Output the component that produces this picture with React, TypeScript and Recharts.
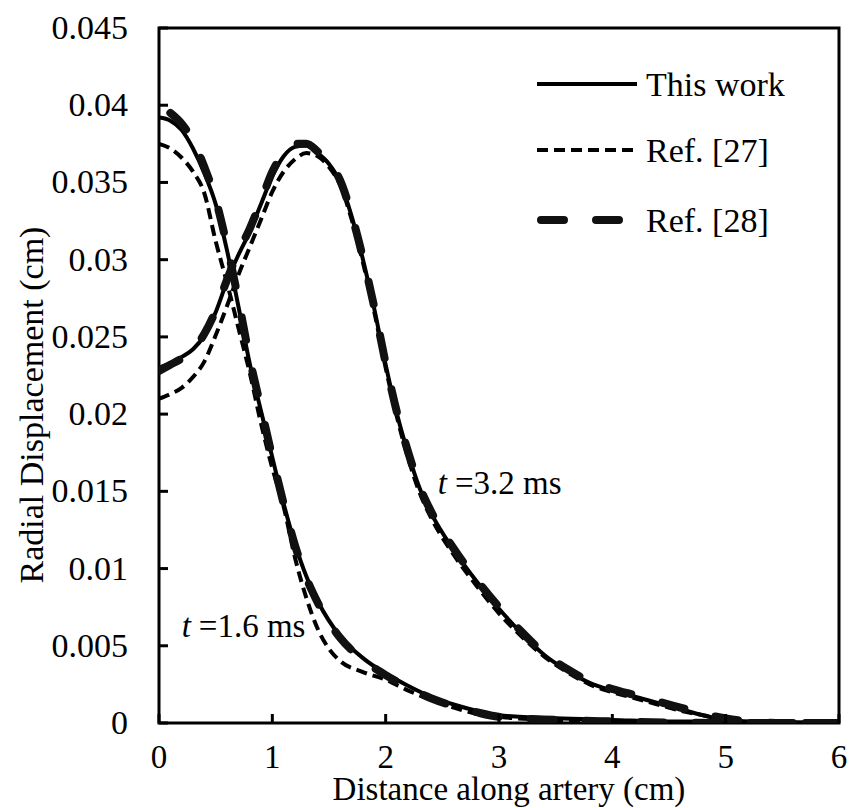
import React from "react";
import { LineChart, Line, XAxis, YAxis, ReferenceArea, ReferenceDot } from "recharts";

// axis ticks
const xTicks = [0, 1, 2, 3, 4, 5, 6];
const yTicks = [0, 0.005, 0.01, 0.015, 0.02, 0.025, 0.03, 0.035, 0.04, 0.045];
const yTickLabels = ["0", "0.005", "0.01", "0.015", "0.02", "0.025", "0.03", "0.035", "0.04", "0.045"];

// t = 1.6 ms
const thisWork16: [number, number][] = [
  [0, 0.0392], [0.1, 0.039], [0.2, 0.0384], [0.3, 0.0372], [0.4, 0.0356], [0.5, 0.0336],
  [0.6, 0.0306], [0.7, 0.027], [0.8, 0.0233], [0.9, 0.0202], [1.0, 0.0172], [1.1, 0.0142],
  [1.2, 0.0116], [1.3, 0.0095], [1.4, 0.0079], [1.6, 0.0056], [1.8, 0.0042], [2.0, 0.0032],
  [2.2, 0.0024], [2.4, 0.0017], [2.6, 0.0012], [2.8, 0.0008], [3.0, 0.0005], [3.5, 0.0003],
  [4.0, 0.0002], [4.5, 0.0001], [5.0, 0.0001], [6.0, 0],
];
const ref27_16: [number, number][] = [
  [0, 0.0375], [0.1, 0.0372], [0.2, 0.0366], [0.3, 0.0357], [0.4, 0.0343], [0.5, 0.0312],
  [0.6, 0.0285], [0.7, 0.0256], [0.8, 0.0227], [0.9, 0.0194], [1.0, 0.0165], [1.1, 0.014],
  [1.2, 0.0107], [1.3, 0.0081], [1.4, 0.0061], [1.5, 0.0048], [1.6, 0.004], [1.8, 0.0033],
  [2.0, 0.0028], [2.2, 0.0021], [2.4, 0.0015], [2.6, 0.001], [2.8, 0.0006], [3.0, 0.0004],
  [3.5, 0.0002], [4.0, 0.0001],
];
const ref28_16: [number, number][] = [
  [0.1, 0.0395], [0.2, 0.0388], [0.3, 0.0377], [0.4, 0.036], [0.5, 0.0339], [0.6, 0.0309],
  [0.7, 0.0274], [0.8, 0.0236], [0.9, 0.0204], [1.0, 0.0172], [1.1, 0.0142], [1.2, 0.0115],
  [1.3, 0.0094], [1.4, 0.0078], [1.6, 0.0055], [1.8, 0.0041], [2.0, 0.0031], [2.2, 0.0023],
  [2.4, 0.0016], [2.6, 0.0011], [2.8, 0.0007], [3.0, 0.0004], [3.5, 0.0002], [4.0, 0.0001],
  [5.0, 0], [6.0, 0],
];

// t = 3.2 ms
const thisWork32: [number, number][] = [
  [0, 0.023], [0.1, 0.0233], [0.2, 0.0237], [0.3, 0.0242], [0.4, 0.0251], [0.5, 0.0266],
  [0.6, 0.0286], [0.7, 0.0303], [0.8, 0.0318], [0.9, 0.0336], [1.0, 0.0354], [1.1, 0.0367],
  [1.2, 0.0373], [1.3, 0.0374], [1.4, 0.0369], [1.5, 0.0362], [1.6, 0.035], [1.7, 0.0328],
  [1.8, 0.03], [1.9, 0.0268], [2.0, 0.0232], [2.1, 0.02], [2.2, 0.0174], [2.3, 0.0152],
  [2.4, 0.0136], [2.6, 0.0112], [2.8, 0.0092], [3.0, 0.0074], [3.2, 0.0058], [3.4, 0.0044],
  [3.6, 0.0034], [3.8, 0.0026], [4.0, 0.0021], [4.2, 0.0017], [4.4, 0.0013], [4.6, 0.0009],
  [4.8, 0.0005], [5.0, 0.0002], [5.2, 0.0001], [5.5, 0], [6.0, 0],
];
const ref27_32: [number, number][] = [
  [0, 0.021], [0.1, 0.0213], [0.2, 0.0217], [0.3, 0.0224], [0.4, 0.0234], [0.5, 0.0251],
  [0.6, 0.027], [0.7, 0.029], [0.8, 0.0308], [0.9, 0.0326], [1.0, 0.0344], [1.1, 0.0357],
  [1.2, 0.0365], [1.3, 0.0369], [1.4, 0.0367], [1.5, 0.036], [1.6, 0.0348], [1.7, 0.0326],
  [1.8, 0.0298], [1.9, 0.0266], [2.0, 0.023], [2.1, 0.0198], [2.2, 0.0171], [2.3, 0.0149],
  [2.4, 0.0133], [2.6, 0.0109], [2.8, 0.0089], [3.0, 0.0071], [3.2, 0.0056], [3.4, 0.0043],
  [3.6, 0.0033], [3.8, 0.0025], [4.0, 0.002], [4.2, 0.0016], [4.4, 0.0012], [4.6, 0.0008],
  [4.8, 0.0005], [5.0, 0.0002], [5.5, 0], [6.0, 0],
];
const ref28_32: [number, number][] = [
  [0, 0.0228], [0.1, 0.0232], [0.2, 0.0236], [0.3, 0.0242], [0.4, 0.0252], [0.5, 0.0267],
  [0.6, 0.0287], [0.7, 0.0305], [0.8, 0.032], [0.9, 0.0338], [1.0, 0.0357], [1.1, 0.0369],
  [1.2, 0.0375], [1.3, 0.0375], [1.4, 0.037], [1.5, 0.0363], [1.6, 0.0351], [1.7, 0.0329],
  [1.8, 0.0301], [1.9, 0.0269], [2.0, 0.0233], [2.1, 0.0201], [2.2, 0.0175], [2.3, 0.0153],
  [2.4, 0.0137], [2.6, 0.0113], [2.8, 0.0093], [3.0, 0.0075], [3.2, 0.0059], [3.4, 0.0045],
  [3.6, 0.0035], [3.8, 0.0027], [4.0, 0.0022], [4.2, 0.0018], [4.4, 0.0014], [4.6, 0.001],
  [4.8, 0.0006], [5.0, 0.0003], [5.2, 0.0001], [5.5, 0], [6.0, 0],
];

const annotations = [
  { x: 0.2, y: 0.0056, time: "1.6" },
  { x: 2.46, y: 0.0148, time: "3.2" },
];

const FONT = '"Liberation Serif", "Times New Roman", serif';
const INK = "#000";

const pts = (s: [number, number][]) => s.map(([x, y]) => ({ x, y }));

const solid = { stroke: INK, strokeWidth: 4 };
const shortDash = { stroke: INK, strokeWidth: 4, strokeDasharray: "11 6" };
const longDash = { stroke: "#111", strokeWidth: 8, strokeDasharray: "23 32", strokeLinecap: "round" as const };

const legendItems = [
  { name: "This work", style: solid },
  { name: "Ref. [27]", style: shortDash },
  { name: "Ref. [28]", style: longDash },
];

const TICK_MARGIN = 30;

function YTick(props: any) {
  const { x, y, index } = props;
  const axisX = x + TICK_MARGIN;
  return (
    <g>
      <line x1={axisX} x2={axisX + 9} y1={y} y2={y} stroke={INK} strokeWidth={3} />
      <text x={x - 1} y={y + 11} textAnchor="end" fontFamily={FONT} fontSize={34} fill={INK}>
        {yTickLabels[index]}
      </text>
    </g>
  );
}

function XTick(props: any) {
  const { x, y, payload } = props;
  return (
    <g>
      <line x1={x} x2={x} y1={y} y2={y - 9} stroke={INK} strokeWidth={3} />
      <text x={x} y={y + 45} textAnchor="middle" fontFamily={FONT} fontSize={33} fill={INK}>
        {payload.value}
      </text>
    </g>
  );
}

function LegendBox() {
  const rowY = [84, 150, 220];
  const textY = [96, 162, 232];
  return (
    <svg
      width={300}
      height={200}
      style={{ position: "absolute", left: 537, top: 40, overflow: "visible", pointerEvents: "none" }}
    >
      {legendItems.map((it, i) => (
        <g key={it.name}>
          <line
            x1={i === 2 ? 4 : 0}
            x2={i === 2 ? 83 : 100}
            y1={rowY[i] - 40}
            y2={rowY[i] - 40}
            {...it.style}
          />
          <text x={109} y={textY[i] - 40} fontFamily={FONT} fontSize={34} fill={INK}>
            {it.name}
          </text>
        </g>
      ))}
    </svg>
  );
}

function AnnotationShape(time: string) {
  return (p: any) => (
    <text x={p.cx} y={p.cy} fontFamily={FONT} fontSize={33} fill={INK}>
      <tspan fontStyle="italic">t</tspan>
      <tspan dx={8}>={time} ms</tspan>
    </text>
  );
}

export default function App() {
  return (
    <div style={{ position: "absolute", left: 0, top: 0, width: 851, height: 808, background: "#fff" }}>
      <LineChart width={851} height={808} margin={{ top: 28, right: 12, bottom: 0, left: 0 }}>
        <XAxis
          type="number"
          dataKey="x"
          domain={[0, 6]}
          ticks={xTicks}
          interval={0}
          height={85}
          tickSize={0}
          tickMargin={0}
          axisLine={false}
          tick={<XTick />}
          allowDataOverflow
          label={{
            content: (p: any) => (
              <text
                x={p.viewBox.x + p.viewBox.width / 2 + 10}
                y={800}
                textAnchor="middle"
                fontFamily={FONT}
                fontSize={33}
                fill={INK}
              >
                Distance along artery (cm)
              </text>
            ),
          }}
        />
        <YAxis
          type="number"
          domain={[0, 0.045]}
          ticks={yTicks}
          interval={0}
          width={159}
          tickSize={0}
          tickMargin={TICK_MARGIN}
          axisLine={false}
          tick={<YTick />}
          allowDataOverflow
          label={{
            content: () => (
              <text
                x={43}
                y={405}
                transform="rotate(-90, 43, 405)"
                textAnchor="middle"
                fontFamily={FONT}
                fontSize={34}
                fill={INK}
              >
                Radial Displacement (cm)
              </text>
            ),
          }}
        />
        <ReferenceArea x1={0} x2={6} y1={0} y2={0.045} fill="none" stroke={INK} strokeWidth={3} />

        <Line data={pts(ref27_16)} dataKey="y" type="monotone" dot={false} isAnimationActive={false} {...shortDash} />
        <Line data={pts(ref27_32)} dataKey="y" type="monotone" dot={false} isAnimationActive={false} {...shortDash} />
        <Line data={pts(thisWork16)} dataKey="y" type="monotone" dot={false} isAnimationActive={false} {...solid} />
        <Line data={pts(thisWork32)} dataKey="y" type="monotone" dot={false} isAnimationActive={false} {...solid} />
        <Line data={pts(ref28_16)} dataKey="y" type="monotone" dot={false} isAnimationActive={false} {...longDash} />
        <Line data={pts(ref28_32)} dataKey="y" type="monotone" dot={false} isAnimationActive={false} {...longDash} />

        {annotations.map((a) => (
          <ReferenceDot key={a.time} x={a.x} y={a.y} r={0} ifOverflow="visible" shape={AnnotationShape(a.time)} />
        ))}
      </LineChart>
      <LegendBox />
    </div>
  );
}
